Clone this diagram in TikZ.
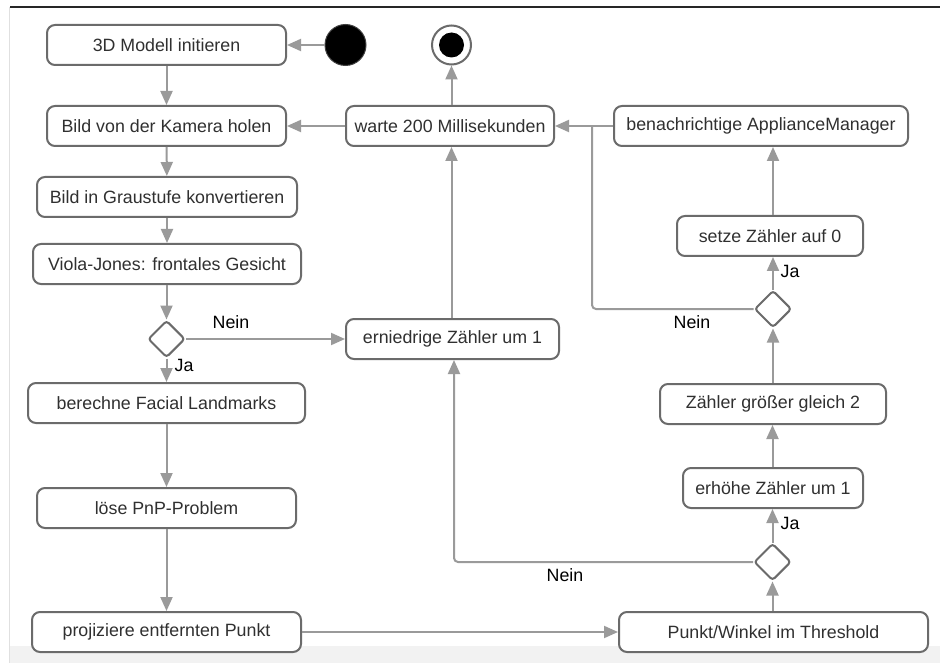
\documentclass[tikz,border=0pt]{standalone}
\usepackage{fontspec}
\setmainfont{Liberation Sans}
\usetikzlibrary{arrows.meta,shapes.geometric}
\definecolor{boxline}{HTML}{6B6B6B}
\definecolor{wire}{HTML}{9A9A9A}
\definecolor{txt}{HTML}{303030}
\tikzset{
  act/.style={draw=boxline, line width=2pt, rounded corners=8pt, fill=white,
    minimum height=40pt, inner sep=0pt, text=txt,
    font=\fontsize{17.8}{21}\selectfont},
  choice/.style={diamond, draw=boxline, line width=2pt, rounded corners=3pt,
    fill=white, minimum width=37pt, minimum height=37pt, inner sep=0pt},
  arr/.style={draw=wire, line width=2pt, rounded corners=4pt,
    -{Triangle[length=14pt,width=12pt]}},
  plain/.style={draw=wire, line width=2pt, rounded corners=4pt},
  lbl/.style={text=black, font=\fontsize{17.8}{21}\selectfont, inner sep=0pt}
}
\begin{document}
\begin{tikzpicture}[x=1pt, y=-1pt]
  \useasboundingbox (0,0) rectangle (940,663);
  % page frame
  \fill[white] (0,0) rectangle (940,663);
  \fill[black!5] (9,646) rectangle (940,663);
  \draw[black!12, line width=1pt] (9.5,7) -- (9.5,663);
  \draw[black!85, line width=1.6pt] (10,7) -- (940,7);

  % start and end
  \node[circle, fill=black, draw=black!75, line width=1pt, minimum size=41pt, inner sep=0pt] (start) at (345.5,45) {};
  \node[circle, fill=white, draw=boxline, line width=2pt, minimum size=39pt, inner sep=0pt] (stop) at (451.5,45) {};
  \fill[black] (stop.center) circle (12.5pt);

  % left column
  \node[act, minimum width=239pt] (init)  at (166.5,45)  {3D Modell initieren};
  \node[act, minimum width=239pt] (grab)  at (166.5,126) {Bild von der Kamera holen};
  \node[act, minimum width=260pt] (gray)  at (167,197)   {Bild in Graustufe konvertieren};
  \node[act, minimum width=268pt] (viola) at (167,264)   {Viola-Jones: frontales Gesicht};
  \node[choice] (d1) at (166.5,339) {};
  \node[act, minimum width=277pt] (lmk)   at (166.5,403) {berechne Facial Landmarks};
  \node[act, minimum width=259pt] (pnp)   at (166.5,508) {löse PnP-Problem};
  \node[act, minimum width=269pt] (proj)  at (166.5,632) {projiziere entfernten Punkt};

  % middle column
  \node[act, minimum width=208pt] (wait)  at (450,126)   {warte 200 Millisekunden};
  \node[act, minimum width=213pt] (dec)   at (452.5,339) {erniedrige Zähler um 1};

  % right column
  \node[act, minimum width=294pt] (notify) at (761,126)  {benachrichtige ApplianceManager};
  \node[act, minimum width=186pt] (reset)  at (770,236)  {setze Zähler auf 0};
  \node[choice] (d2) at (773,309) {};
  \node[act, minimum width=226pt] (geq)    at (773,404)  {Zähler größer gleich 2};
  \node[act, minimum width=180pt] (inc)    at (773,488)  {erhöhe Zähler um 1};
  \node[choice] (d3) at (772.5,562) {};
  \node[act, minimum width=309pt] (thr)    at (773.5,632) {Punkt/Winkel im Threshold};

  \coordinate (join) at (592,126);

  % flow
  \draw[arr] (start) -- (init);
  \draw[arr] (init) -- (grab);
  \draw[arr] (grab) -- (gray);
  \draw[arr] (gray) -- (viola);
  \draw[arr] (viola.south -| d1) -- (d1);
  \draw[arr] (d1) -- (lmk.north -| d1);
  \draw[arr] (lmk.south -| d1) -- (pnp.north -| d1);
  \draw[arr] (pnp.south -| d1) -- (proj.north -| d1);
  \draw[arr] (proj) -- (thr);
  \draw[arr] (thr.north -| d3) -- (d3);
  \draw[arr] (d3) -- (inc.south -| d3);
  \draw[arr] (inc.north -| d3) -- (geq.south -| d3);
  \draw[arr] (geq.north -| d2) -- (d2);
  \draw[arr] (d2) -- (reset.south -| d2);
  \draw[arr] (reset.north -| d2) -- (notify.south -| d2);
  \draw[arr] (notify) -- (wait);
  \draw[plain] (d2.west) -| (join);
  \draw[arr] (d1) -- (dec);
  \draw[arr] (d3.west) -| ([xshift=1.5pt]dec.south);
  \draw[arr] (dec.north -| stop) -- (wait.south -| stop);
  \draw[arr] (wait) -- (grab);
  \draw[arr] (wait.north -| stop) -- (stop);

  % guard labels
  \node[lbl] (n1) at (231,322) {Nein};
  \node[lbl] (j1) at (184,365) {Ja};
  \node[lbl] (n2) at (692,322) {Nein};
  \node[lbl] (j2) at (790,271) {Ja};
  \node[lbl] (n3) at (565,575) {Nein};
  \node[lbl] (j3) at (790,523) {Ja};
\end{tikzpicture}
\end{document}
